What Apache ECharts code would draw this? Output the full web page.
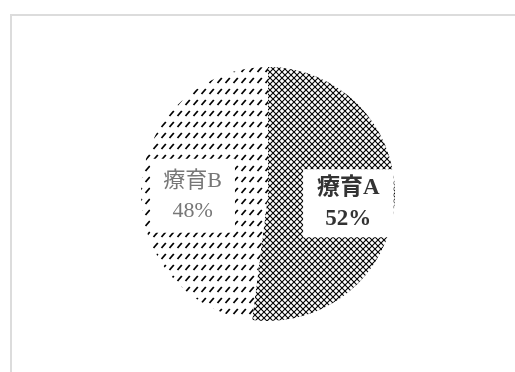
<!DOCTYPE html>
<html>
<head>
<meta charset="utf-8">
<script src="https://cdn.jsdelivr.net/npm/echarts@6/dist/echarts.min.js"></script>
<style>
  html, body { margin: 0; padding: 0; background: #fff; overflow: hidden; }
  #frame {
    position: absolute; left: 10px; top: 14px; width: 700px; height: 600px;
    border: 2px solid #dcdcdc; box-sizing: border-box;
  }
  #chart { position: absolute; left: 0; top: 0; width: 515px; height: 372px; }
</style>
</head>
<body>
<div id="frame"></div>
<div id="chart"></div>
<script>
// Shares of the two programmes
const categories = ['療育A', '療育B'];
const values = [52, 48];

// Cross-hatched (diamond lattice) fill
function crossPattern() {
  const c = document.createElement('canvas');
  c.width = 6; c.height = 6;
  const g = c.getContext('2d');
  g.fillStyle = '#fff';
  g.fillRect(0, 0, 6, 6);
  g.strokeStyle = '#000';
  g.lineWidth = 1.1;
  g.beginPath();
  g.moveTo(-1, -1); g.lineTo(7, 7);
  g.moveTo(7, -1); g.lineTo(-1, 7);
  g.stroke();
  return { image: c, repeat: 'repeat' };
}

// Rows of short diagonal dashes
function dashPattern() {
  const c = document.createElement('canvas');
  c.width = 8; c.height = 11;
  const g = c.getContext('2d');
  g.fillStyle = '#fff';
  g.fillRect(0, 0, 8, 11);
  g.strokeStyle = '#000';
  g.lineWidth = 1.8;
  g.beginPath();
  g.moveTo(1.5, 6); g.lineTo(5.8, 1);
  g.stroke();
  return { image: c, repeat: 'repeat' };
}

const fills = [crossPattern(), dashPattern()];
const labelStyles = [
  { color: '#333', fontWeight: 'bold', fontSize: 23, lineHeight: 31, padding: [3, 14, 3, 14], offset: [14, 5] },
  { color: '#777', fontWeight: 'normal', fontSize: 22, lineHeight: 30, padding: [7, 13, 7, 13], offset: [-9, 6] }
];

const chart = echarts.init(document.getElementById('chart'), null, { renderer: 'canvas' });
chart.setOption({
  animation: false,
  backgroundColor: 'transparent',
  series: [{
    type: 'pie',
    center: [268, 194],
    radius: 127,
    startAngle: 90,
    clockwise: true,
    silent: true,
    emphasis: { disabled: true },
    labelLine: { show: false },
    data: categories.map((name, i) => ({
      name,
      value: values[i],
      itemStyle: { color: fills[i], borderWidth: 0 },
      label: Object.assign({
        show: true,
        position: 'inside',
        formatter: '{b}\n{c}%',
        fontFamily: '"Liberation Serif", "Noto Sans CJK JP", serif',
        backgroundColor: '#fff',
        align: 'center'
      }, labelStyles[i])
    }))
  }]
});
</script>
</body>
</html>
